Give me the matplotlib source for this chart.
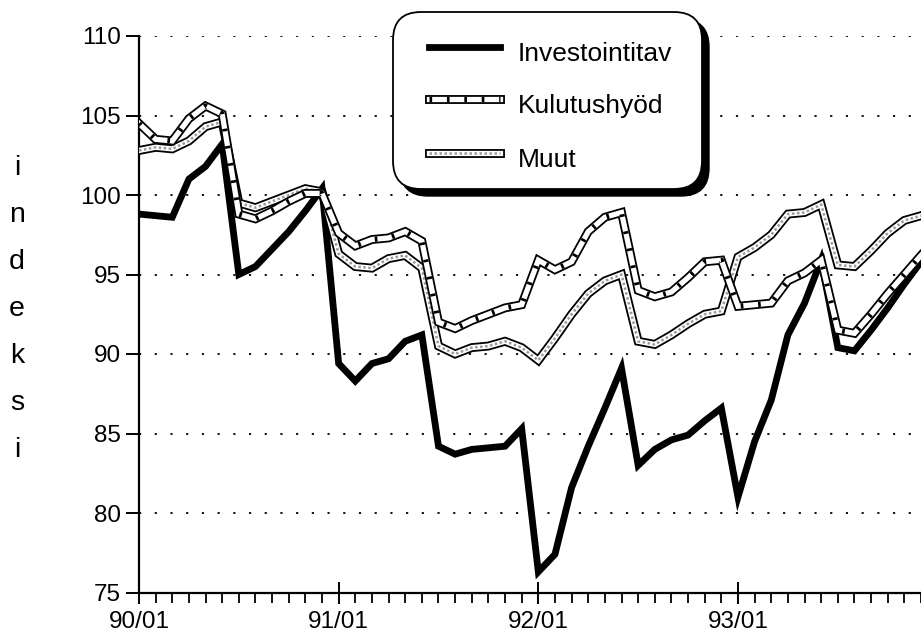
import matplotlib
matplotlib.use("Agg")
import matplotlib.pyplot as plt
from matplotlib.patches import FancyBboxPatch

plt.rcParams['font.family'] = ['Liberation Sans', 'DejaVu Sans']

# monthly index 90/01 ... 93/12
months = list(range(48))
year_ticks = [0, 12, 24, 36]
year_labels = ['90/01', '91/01', '92/01', '93/01']
y_ticks = [75, 80, 85, 90, 95, 100, 105, 110]

investointitav = [98.8, 98.7, 98.6, 101.0, 101.8, 103.2, 95.0, 95.5, 96.6, 97.7, 99.0, 100.4,
                  89.4, 88.3, 89.4, 89.7, 90.8, 91.2, 84.2, 83.7, 84.0, 84.1, 84.2, 85.3,
                  76.3, 77.4, 81.6, 84.2, 86.6, 89.1, 83.0, 84.0, 84.6, 84.9, 85.8, 86.6,
                  81.0, 84.5, 87.1, 91.2, 93.2, 95.9, 90.4, 90.2, 91.5, 92.9, 94.4, 95.8]

kulutushyod = [104.5, 103.5, 103.4, 104.8, 105.6, 105.1, 98.8, 98.5, 99.0, 99.6, 100.1, 100.1,
               97.6, 96.8, 97.2, 97.3, 97.7, 97.1, 92.0, 91.6, 92.1, 92.5, 92.9, 93.1,
               95.9, 95.3, 95.8, 97.7, 98.6, 98.9, 94.0, 93.6, 93.9, 94.8, 95.8, 95.9,
               93.0, 93.1, 93.2, 94.6, 95.1, 95.9, 91.5, 91.3, 92.5, 93.8, 95.0, 96.2]

muut = [102.8, 103.0, 102.9, 103.4, 104.3, 104.6, 99.5, 99.2, 99.6, 100.0, 100.4, 100.2,
        96.3, 95.5, 95.4, 96.0, 96.2, 95.4, 90.5, 90.0, 90.4, 90.5, 90.8, 90.4,
        89.6, 91.0, 92.5, 93.8, 94.6, 95.0, 90.8, 90.6, 91.2, 91.9, 92.5, 92.7,
        96.1, 96.7, 97.5, 98.8, 98.9, 99.4, 95.6, 95.5, 96.5, 97.6, 98.4, 98.7]

names = ['Investointitav', 'Kulutushyöd', 'Muut']


def draw_solid(ax, x, y, z):
    ax.plot(x, y, color='black', lw=4.9, solid_joinstyle='miter', zorder=z)


def draw_hatched(ax, x, y, z):
    ax.plot(x, y, color='black', lw=6.4, solid_joinstyle='miter', zorder=z)
    ax.plot(x, y, color='white', lw=3.8, solid_joinstyle='miter', zorder=z + 0.1)
    ax.plot(x, y, color='black', lw=3.8, linestyle=(0, (0.5, 2.8)), zorder=z + 0.2)


def draw_stippled(ax, x, y, z):
    ax.plot(x, y, color='black', lw=6.4, solid_joinstyle='miter', zorder=z)
    ax.plot(x, y, color='white', lw=3.8, solid_joinstyle='miter', zorder=z + 0.1)
    ax.plot(x, y, color='#9a9a9a', lw=1.8, linestyle=(0, (1, 1)), zorder=z + 0.2)


fig = plt.figure(figsize=(9.21, 6.38), dpi=100)
ax = fig.add_axes([139 / 921, 45.5 / 638, 782 / 921, 556.5 / 638])

draw_solid(ax, months, investointitav, 2)
draw_stippled(ax, months, muut, 3)
draw_hatched(ax, months, kulutushyod, 4)

ax.set_xlim(0, 47)
ax.set_ylim(75, 110)
for s in ['top', 'right']:
    ax.spines[s].set_visible(False)
ax.spines['left'].set_linewidth(1.6)
ax.spines['bottom'].set_linewidth(1.6)

ax.set_yticks(y_ticks)
ax.tick_params(axis='y', direction='out', length=9.5, width=1.4, pad=3.5, labelsize=17.5)
ax.set_xticks(year_ticks)
ax.set_xticklabels(year_labels)
ax.set_xticks(months, minor=True)
ax.tick_params(axis='x', which='major', direction='inout', length=16, width=1.4,
               pad=5.5, labelsize=17.5)
ax.tick_params(axis='x', which='minor', direction='out', length=7.5, width=1.3)
ax.grid(axis='y', color='black', lw=1.3, linestyle=(0, (1.2, 7.5)), zorder=1)
ax.set_axisbelow(True)

# overlay in pixel units for legend box and stacked axis label
ov = fig.add_axes([0, 0, 1, 1], zorder=5)
ov.set_xlim(0, 921)
ov.set_ylim(638, 0)
ov.axis('off')

for i, ch in enumerate('indeksi'):
    ov.text(17, 175 + 47 * i, ch, ha='center', va='baseline', fontsize=20.5)

ov.add_patch(FancyBboxPatch((400, 19), 309, 177, boxstyle='round,pad=0,rounding_size=28',
                            fc='black', ec='black', lw=1))
ov.add_patch(FancyBboxPatch((393, 12), 309, 177, boxstyle='round,pad=0,rounding_size=28',
                            fc='white', ec='black', lw=1.3))

handles = [draw_solid, draw_hatched, draw_stippled]
rows = [47, 99, 153]
for name, fn, yy in zip(names, handles, rows):
    fn(ov, [429, 500], [yy, yy], 6)
    ov.text(518, yy + 14, name, fontsize=19, va='baseline', zorder=7)

fig.savefig('out.png', dpi=100)
